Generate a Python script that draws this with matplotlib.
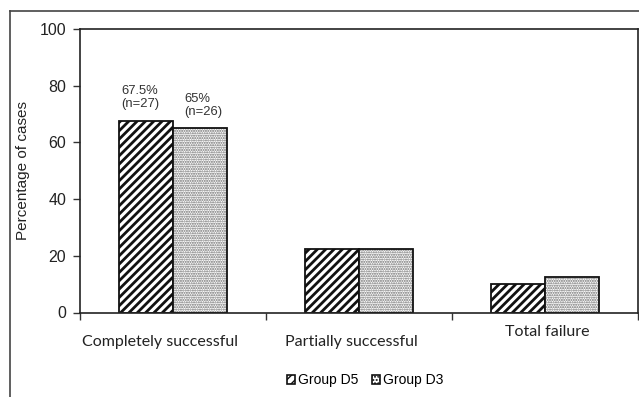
import matplotlib
matplotlib.use("Agg")
import matplotlib.pyplot as plt
import numpy as np
from matplotlib.lines import Line2D
from matplotlib.patches import Patch

categories = ["Completely successful", "Partially successful", "Total failure"]
group_d5 = [67.5, 22.5, 10.0]
group_d3 = [65.0, 22.5, 12.5]
series_names = ["Group D5", "Group D3"]
annotations_d5 = ["67.5%\n(n=27)", None, None]
annotations_d3 = ["65%\n(n=26)", None, None]
yticks = [0, 20, 40, 60, 80, 100]

plt.rcParams['font.family'] = ['Liberation Sans', 'DejaVu Sans']
plt.rcParams['hatch.linewidth'] = 2.0

fig = plt.figure(figsize=(6.39, 3.97), dpi=100)
W, H = 639, 397
ax = fig.add_axes([80 / W, 1 - 312.5 / H, (638 - 80) / W, (312.5 - 29) / H])

x = np.arange(len(categories))
bw = 0.288
b1 = ax.bar(x - bw / 2, group_d5, bw, facecolor='white', edgecolor='#111111',
            hatch='////', linewidth=1.3, label=series_names[0])
plt.rcParams['hatch.linewidth'] = 1.0
b2 = ax.bar(x + bw / 2, group_d3, bw, facecolor='white', edgecolor='#111111',
            hatch='.......', linewidth=1.3, label=series_names[1])
for p in b2:
    p._hatch_color = matplotlib.colors.to_rgba('#6a6a6a')

for i, (a5, a3) in enumerate(zip(annotations_d5, annotations_d3)):
    if a5:
        ax.text(x[i] - bw + 0.01, group_d5[i] + 3.9, a5, ha='left', va='bottom',
                fontsize=9.4, color='#333333', linespacing=1.15)
    if a3:
        ax.text(x[i] + 0.06, group_d3[i] + 3.6, a3, ha='left', va='bottom',
                fontsize=9.4, color='#333333', linespacing=1.15)

ax.set_xlim(-0.5, len(categories) - 0.5)
ax.set_ylim(0, 100)
ax.set_yticks(yticks)
ax.set_yticklabels([str(v) for v in yticks], fontsize=11.5, color='#222222')
ax.set_xticks(np.arange(len(categories) + 1) - 0.5)
ax.set_xticklabels([])
ax.tick_params(axis='x', direction='out', length=5, width=1, color='#333333')
ax.tick_params(axis='y', direction='out', length=5, width=1, color='#333333', pad=5)
ax.set_ylabel("Percentage of cases", fontsize=11, color='#222222', labelpad=7)
for s in ax.spines.values():
    s.set_color('#222222')
    s.set_linewidth(1.2)

label_y = [342, 342, 332]
label_dx = [-13, -8, 2]
for i, c in enumerate(categories):
    fig.text((80 + 186 * (i + 0.5) + label_dx[i]) / W, 1 - label_y[i] / H, c,
             ha='center', va='center', fontsize=11.5, color='#222222',
             family=['Lato', 'DejaVu Sans'])

handles = [Patch(facecolor='white', edgecolor='#111111', hatch='////', linewidth=1.2),
           Patch(facecolor='white', edgecolor='#111111', hatch='.....', linewidth=1.2)]
fig.legend(handles, series_names, loc='center', bbox_to_anchor=(365 / W, 1 - 380 / H),
           ncol=2, frameon=False, fontsize=10, handlelength=0.6, handleheight=0.6,
           handletextpad=0.2, columnspacing=1.0)

fig.add_artist(Line2D([10 / W, 10 / W], [0, 1 - 11 / H], transform=fig.transFigure,
                      color='#444444', linewidth=1.2))
fig.add_artist(Line2D([10 / W, 1], [1 - 11 / H, 1 - 11 / H], transform=fig.transFigure,
                      color='#444444', linewidth=1.2))

fig.savefig("out.png", dpi=100)
